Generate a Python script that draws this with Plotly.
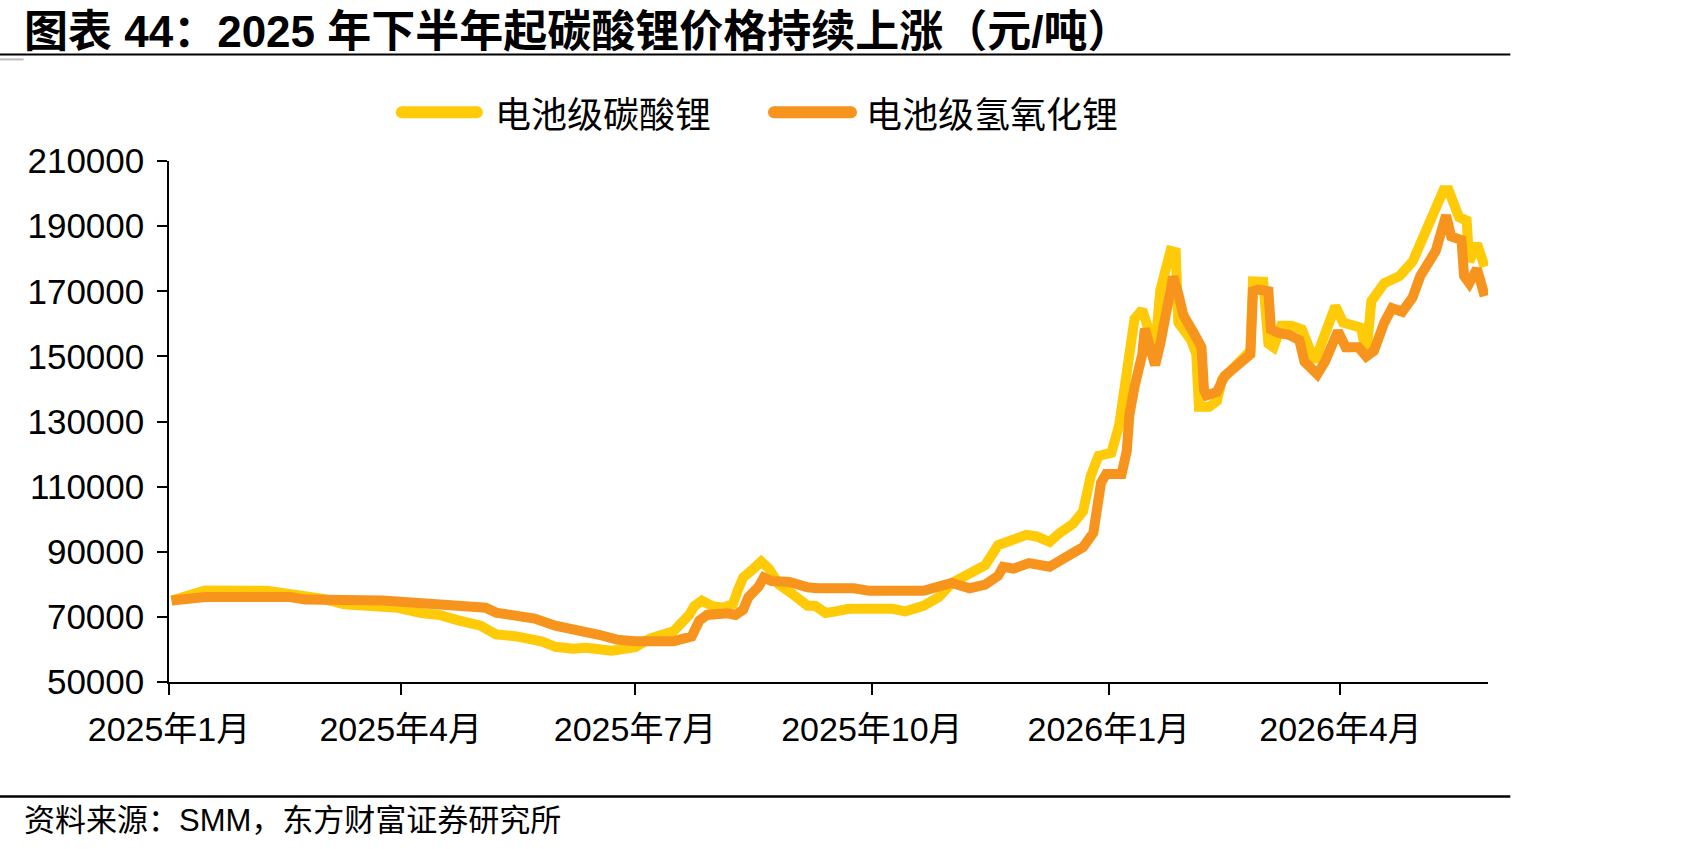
import plotly.graph_objects as go

# ---------------- data ----------------
lc_dates = ["2025-01-02", "2025-01-15", "2025-02-08", "2025-02-17", "2025-03-02", "2025-03-10",
            "2025-03-25", "2025-03-31", "2025-04-09", "2025-04-16", "2025-04-23", "2025-05-02",
            "2025-05-08", "2025-05-16", "2025-05-26", "2025-05-31", "2025-06-07", "2025-06-12",
            "2025-06-22", "2025-07-01", "2025-07-07", "2025-07-16", "2025-07-22", "2025-07-24",
            "2025-07-27", "2025-07-31", "2025-08-04", "2025-08-08", "2025-08-10", "2025-08-12",
            "2025-08-16", "2025-08-19", "2025-08-22", "2025-08-26", "2025-08-30", "2025-09-03",
            "2025-09-06", "2025-09-09", "2025-09-13", "2025-09-17", "2025-09-22", "2025-10-09",
            "2025-10-14", "2025-10-21", "2025-10-27", "2025-11-01", "2025-11-10", "2025-11-14",
            "2025-11-19", "2025-11-25", "2025-11-30", "2025-12-04", "2025-12-09", "2025-12-13",
            "2025-12-18", "2025-12-22", "2025-12-25", "2025-12-28", "2026-01-02", "2026-01-05",
            "2026-01-07", "2026-01-09", "2026-01-11", "2026-01-14", "2026-01-17", "2026-01-19",
            "2026-01-21", "2026-01-25", "2026-01-27", "2026-01-28", "2026-02-02", "2026-02-04",
            "2026-02-05", "2026-02-09", "2026-02-12", "2026-02-14", "2026-02-25", "2026-02-26",
            "2026-03-02", "2026-03-04", "2026-03-06", "2026-03-09", "2026-03-13", "2026-03-17",
            "2026-03-22", "2026-03-24", "2026-03-30", "2026-04-02", "2026-04-09", "2026-04-11",
            "2026-04-13", "2026-04-18", "2026-04-24", "2026-04-29", "2026-05-03", "2026-05-08",
            "2026-05-11", "2026-05-13", "2026-05-17", "2026-05-20", "2026-05-21", "2026-05-24",
            "2026-05-27"]
lc_values = [75000, 78100, 78000, 77200, 75500, 73900,
             73400, 72800, 71200, 70600, 69000, 67300,
             64600, 64000, 62400, 60800, 60200, 60500,
             59600, 60700, 63400, 65600, 70600, 73300,
             75000, 73300, 72800, 73900, 78300, 82100,
             84800, 87000, 84800, 79900, 77700, 75000,
             73400, 73400, 71200, 71700, 72500, 72500,
             71700, 73400, 76100, 80400, 83700, 85900,
             92000, 94100, 95200, 94700, 93000, 95800,
             98500, 102400, 113300, 119400, 120400, 128700,
             139600, 150600, 161500, 164300, 157200, 152000,
             170300, 182400, 182000, 160400, 155000, 150600,
             134500, 134500, 136300, 142900, 151700, 173000,
             172900, 153900, 152800, 159400, 159400, 158300,
             148400, 152800, 165400, 160400, 158800, 150600,
             167000, 172500, 174700, 179100, 186800, 196100,
             201000, 201000, 192800, 191700, 179100, 184600,
             177500]

lh_dates = ["2025-01-02", "2025-01-15", "2025-02-17", "2025-02-23", "2025-03-25", "2025-04-16",
            "2025-05-04", "2025-05-08", "2025-05-23", "2025-05-31", "2025-06-11", "2025-06-17",
            "2025-06-24", "2025-07-01", "2025-07-16", "2025-07-23", "2025-07-26", "2025-07-29",
            "2025-08-06", "2025-08-09", "2025-08-12", "2025-08-14", "2025-08-18", "2025-08-20",
            "2025-08-23", "2025-08-30", "2025-09-06", "2025-09-10", "2025-09-24", "2025-09-30",
            "2025-10-21", "2025-10-25", "2025-11-01", "2025-11-08", "2025-11-14", "2025-11-19",
            "2025-11-21", "2025-11-25", "2025-12-01", "2025-12-09", "2025-12-13", "2025-12-18",
            "2025-12-22", "2025-12-26", "2025-12-27", "2025-12-29", "2025-12-31", "2026-01-06",
            "2026-01-08", "2026-01-09", "2026-01-11", "2026-01-14", "2026-01-15", "2026-01-17",
            "2026-01-19", "2026-01-21", "2026-01-24", "2026-01-26", "2026-01-28", "2026-01-30",
            "2026-02-03", "2026-02-06", "2026-02-07", "2026-02-08", "2026-02-12", "2026-02-15",
            "2026-02-25", "2026-02-26", "2026-02-28", "2026-03-04", "2026-03-05", "2026-03-08",
            "2026-03-12", "2026-03-16", "2026-03-18", "2026-03-23", "2026-03-26", "2026-03-31",
            "2026-04-03", "2026-04-08", "2026-04-11", "2026-04-14", "2026-04-18", "2026-04-21",
            "2026-04-25", "2026-04-29", "2026-05-02", "2026-05-08", "2026-05-10", "2026-05-12",
            "2026-05-14", "2026-05-18", "2026-05-19", "2026-05-21", "2026-05-24", "2026-05-27"]
lh_values = [75000, 76100, 76100, 75300, 75000, 73900,
             72800, 71300, 69500, 67300, 65700, 64500,
             63000, 62500, 62500, 64000, 68900, 70600,
             71100, 70600, 72200, 76000, 79300, 82100,
             81000, 80700, 79100, 78800, 78800, 78000,
             78000, 78800, 80400, 78800, 79900, 82600,
             85400, 84800, 86500, 85400, 87000, 89700,
             91400, 95800, 102400, 111200, 113900, 113900,
             121000, 132000, 140700, 150600, 158500, 154000,
             147300, 153900, 165900, 174500, 169200, 162600,
             157200, 152800, 139600, 138000, 139100, 144000,
             150600, 170000, 170500, 170000, 158300, 157200,
             156600, 155000, 148400, 144500, 148400, 157700,
             152800, 152800, 150000, 151700, 160400, 164800,
             163700, 168100, 174700, 182400, 187900, 193300,
             186800, 185700, 174700, 172500, 176900, 168500]

series_names = ["电池级碳酸锂", "电池级氢氧化锂"]
series_colors = ["#FFCA08", "#F7941E"]

x_tickvals = ["2025-01-01", "2025-04-01", "2025-07-01", "2025-10-01", "2026-01-01", "2026-04-01"]
x_ticktext = ["2025年1月", "2025年4月", "2025年7月", "2025年10月", "2026年1月", "2026年4月"]
y_tickvals = [50000, 70000, 90000, 110000, 130000, 150000, 170000, 190000, 210000]
y_ticktext = ["50000", "70000", "90000", "110000", "130000", "150000", "170000", "190000", "210000"]

title_text = "图表 44：2025 年下半年起碳酸锂价格持续上涨（元/吨）"
source_text = "资料来源：SMM，东方财富证券研究所"

# ---------------- layout geometry (pixels) ----------------
FIG_W, FIG_H = 1701, 849
L, R_EDGE, T, B_EDGE = 169.3, 1487.7, 160.7, 682.3
PW, PH = R_EDGE - L, B_EDGE - T


def px(xp):
    return (xp - L) / PW


def py(yp):
    return (B_EDGE - yp) / PH


FONT = "Liberation Sans, Arial, Noto Sans CJK SC, sans-serif"
CJK = "Noto Sans CJK SC, sans-serif"

fig = go.Figure()
fig.add_trace(go.Scatter(x=lc_dates, y=lc_values, mode="lines", name=series_names[0],
                         line=dict(color=series_colors[0], width=10), showlegend=False))
fig.add_trace(go.Scatter(x=lh_dates, y=lh_values, mode="lines", name=series_names[1],
                         line=dict(color=series_colors[1], width=10), showlegend=False))

shapes = []
# title rule and footer rule
shapes.append(dict(type="line", xref="paper", yref="paper", x0=px(0), x1=px(1510), y0=py(54), y1=py(54),
                   line=dict(color="black", width=2)))
shapes.append(dict(type="line", xref="paper", yref="paper", x0=px(0), x1=px(24), y0=py(59), y1=py(59),
                   line=dict(color="#bbbbbb", width=2)))
shapes.append(dict(type="line", xref="paper", yref="paper", x0=px(0), x1=px(1510), y0=py(797), y1=py(797),
                   line=dict(color="black", width=2.5)))

# custom legend swatches (rounded bars)
annotations = []
legend_items = [(396, 483, 493), (768, 857, 864)]
ly, lr = 112, 6
for (x1, x2, tx), name, col in zip(legend_items, series_names, series_colors):
    shapes.append(dict(type="rect", xref="paper", yref="paper", x0=px(x1 + lr), x1=px(x2 - lr),
                       y0=py(ly + lr), y1=py(ly - lr), fillcolor=col, line=dict(width=0)))
    for cx in (x1 + lr, x2 - lr):
        shapes.append(dict(type="circle", xref="paper", yref="paper", x0=px(cx - lr), x1=px(cx + lr),
                           y0=py(ly + lr), y1=py(ly - lr), fillcolor=col, line=dict(width=0)))
    annotations.append(dict(text=name, xref="paper", yref="paper", x=px(tx), y=py(ly),
                            xanchor="left", yanchor="middle", showarrow=False,
                            font=dict(family=CJK, size=36, color="black")))

annotations.append(dict(text="<b>" + title_text + "</b>", xref="paper", yref="paper", x=px(22), y=py(31),
                        xanchor="left", yanchor="middle", showarrow=False,
                        font=dict(family="Liberation Sans, Noto Sans CJK SC, sans-serif", size=44, color="black")))
annotations.append(dict(text=source_text, xref="paper", yref="paper", x=px(22), y=py(821),
                        xanchor="left", yanchor="middle", showarrow=False,
                        font=dict(family="Liberation Sans, Noto Sans CJK SC, sans-serif", size=31, color="black")))

fig.update_layout(
    width=FIG_W, height=FIG_H,
    margin=dict(l=L, r=FIG_W - R_EDGE, t=T, b=FIG_H - B_EDGE, pad=0),
    paper_bgcolor="white", plot_bgcolor="white",
    shapes=shapes, annotations=annotations,
    showlegend=False,
    font=dict(family=FONT, size=34, color="black"),
)
fig.update_xaxes(
    type="date", range=["2025-01-01", "2026-05-28 07:00"],
    tickvals=x_tickvals, ticktext=x_ticktext,
    showline=True, linecolor="black", linewidth=1.5,
    ticks="outside", ticklen=11, tickcolor="black", tickwidth=1.5,
    showgrid=False, zeroline=False, ticklabelstandoff=5,
    tickfont=dict(family=FONT, size=34, color="black"),
)
fig.update_yaxes(
    range=[50000, 210000], tickvals=y_tickvals, ticktext=y_ticktext,
    showline=True, linecolor="black", linewidth=1.5,
    ticks="outside", ticklen=10, tickcolor="black", tickwidth=1.5,
    showgrid=False, zeroline=False, ticklabelstandoff=6,
    tickfont=dict(family=FONT, size=35, color="black"),
)

fig.write_html("out.html")
